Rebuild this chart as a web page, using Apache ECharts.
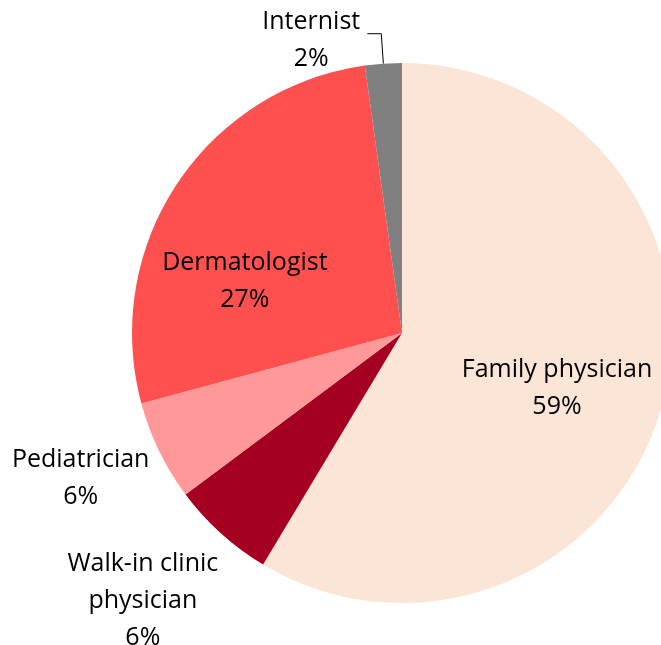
<!DOCTYPE html>
<html><head><meta charset="utf-8">
<script src="https://cdn.jsdelivr.net/npm/echarts@6/dist/echarts.min.js"></script>
<style>html,body{margin:0;padding:0;background:#fff}#c{width:661px;height:645px}</style>
</head><body><div id="c"></div>
<script>
var categories = ['Family physician', 'Walk-in clinic\nphysician', 'Pediatrician', 'Dermatologist', 'Internist'];
var values = [58.6, 6.2, 6.0, 27.0, 2.2];
var colors = ['#FBE5D6', '#A50021', '#FF9999', '#FF5050', '#808080'];

var chart = echarts.init(document.getElementById('c'), null, {renderer: 'canvas'});
var labelShift = [[22, 19], [-33, 56], [-30, 21], [-42, 25], [-51, 7]];
var data = categories.map(function (n, i) {
  var item = {name: n, value: values[i], itemStyle: {color: colors[i]}};
  if (i === 0 || i === 3) {
    item.label = {position: 'inside'};
    item.labelLine = {show: false};
  } else if (i === 4) {
    item.label = {position: 'outside'};
    item.labelLine = {show: true, length: 30, length2: 14, lineStyle: {color: '#000', width: 1}};
  } else {
    item.label = {position: 'outside'};
    item.labelLine = {show: false};
  }
  return item;
});
chart.setOption({
  animation: false,
  series: [{
    type: 'pie',
    center: [402, 333],
    radius: 270,
    startAngle: 90,
    clockwise: true,
    percentPrecision: 0,
    avoidLabelOverlap: false,
    label: {
      show: true,
      formatter: '{b}\n{d}%',
      color: '#000',
      fontFamily: 'Open Sans',
      fontSize: 25,
      lineHeight: 37,
      align: 'center'
    },
    labelLayout: function (p) {
      var s = labelShift[p.dataIndex];
      var r = {dx: s[0], dy: s[1]};
      if (p.dataIndex === 1 || p.dataIndex === 2 || p.dataIndex === 4) r.align = 'center';
      return r;
    },
    data: data
  }]
});
</script></body></html>
